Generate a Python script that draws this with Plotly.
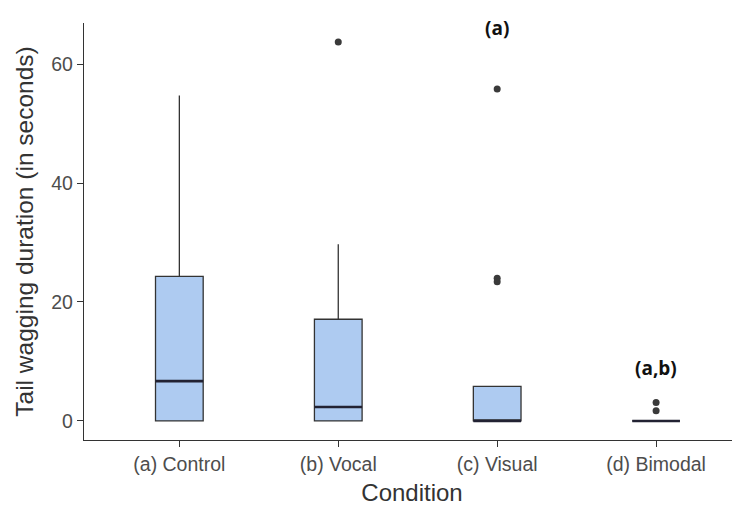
import plotly.graph_objects as go

categories = ["(a) Control", "(b) Vocal", "(c) Visual", "(d) Bimodal"]
q1 = [0, 0, 0, 0]
median = [6.7, 2.35, 0, 0]
q3 = [24.3, 17.1, 5.8, 0]
lower_whisker = [0, 0, 0, 0]
upper_whisker = [54.7, 29.7, 5.8, 0]
outlier_x = ["(b) Vocal", "(c) Visual", "(c) Visual", "(c) Visual", "(d) Bimodal", "(d) Bimodal"]
outlier_y = [63.7, 55.8, 24.0, 23.4, 3.1, 1.7]
letters = ["(a)", "(a,b)"]
letter_x = ["(c) Visual", "(d) Bimodal"]
letter_y = [66.05, 8.9]

fig = go.Figure()
fig.add_trace(go.Box(
    x=categories, q1=q1, median=median, q3=q3,
    lowerfence=lower_whisker, upperfence=upper_whisker,
    fillcolor="#aecbf1", line=dict(color="#333333", width=1.3),
    width=0.3, whiskerwidth=0, boxpoints=False, showlegend=False, hoverinfo="skip"))
# thicker median line
fig.add_trace(go.Box(
    x=categories, q1=median, median=median, q3=median,
    lowerfence=median, upperfence=median,
    fillcolor="rgba(0,0,0,0)", line=dict(color="#222233", width=2.6),
    width=0.3, whiskerwidth=0, boxpoints=False, showlegend=False, hoverinfo="skip"))
fig.add_trace(go.Scatter(
    x=outlier_x, y=outlier_y, mode="markers",
    marker=dict(color="#3a3a3a", size=7), showlegend=False, hoverinfo="skip"))

for t, xx, yy in zip(letters, letter_x, letter_y):
    fig.add_annotation(x=xx, y=yy, text="<b>%s</b>" % t, showarrow=False,
                       font=dict(family="Open Sans, Liberation Sans", size=19, color="#111111"),
                       xanchor="center", yanchor="middle")

# the page body adds an 8px offset, so the figure is sized to fit in 740x506
fig.update_layout(
    width=732, height=498,
    margin=dict(l=76, r=0, t=15, b=66),
    plot_bgcolor="white", paper_bgcolor="white",
    boxmode="overlay",
    font=dict(family="Liberation Sans, Arial", color="#4d4d4d"),
)
fig.update_xaxes(
    type="category", categoryorder="array", categoryarray=categories,
    range=[-0.6, 3.528], showline=True, linecolor="#333333", linewidth=1.3,
    ticks="outside", ticklen=6, tickcolor="#333333", tickwidth=1.3,
    tickfont=dict(size=19.5, color="#4d4d4d"), showgrid=False, zeroline=False,
    automargin=False,
    title=dict(text="Condition", font=dict(size=24, color="#333333"), standoff=20))
fig.update_yaxes(
    range=[-3.2, 66.9], tickvals=[0, 20, 40, 60],
    showline=True, linecolor="#333333", linewidth=1.3,
    ticks="outside", ticklen=6, tickcolor="#333333", tickwidth=1.3,
    tickfont=dict(size=19.5, color="#4d4d4d"), showgrid=False, zeroline=False,
    automargin=False,
    title=dict(text="Tail wagging duration (in seconds)", font=dict(size=24.5, color="#333333"), standoff=10))

fig.write_html("out.html")
